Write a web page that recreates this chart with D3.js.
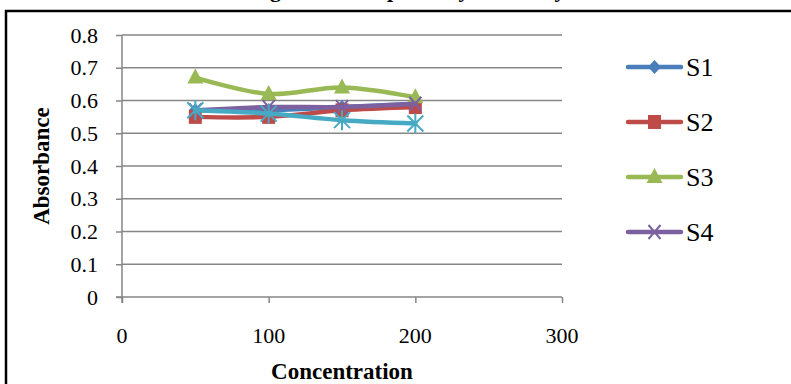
<!DOCTYPE html>
<html><head><meta charset="utf-8">
<script src="https://cdn.jsdelivr.net/npm/d3@7"></script>
<style>html,body{margin:0;padding:0;background:#fff;overflow:hidden}</style>
</head><body>
<script>
const concentrations = [50, 100, 150, 200];
const seriesNames = ["S1", "S2", "S3", "S4", "S5"];
const s1 = [0.57, 0.57, 0.58, 0.59];
const s2 = [0.55, 0.55, 0.57, 0.58];
const s3 = [0.67, 0.62, 0.64, 0.61];
const s4 = [0.57, 0.58, 0.58, 0.59];
const s5 = [0.57, 0.56, 0.54, 0.53];
const legendNames = ["S1", "S2", "S3", "S4"];
const yTicks = [0, 0.1, 0.2, 0.3, 0.4, 0.5, 0.6, 0.7, 0.8];
const xTicks = [0, 100, 200, 300];
const titleText = "Figure 4: Phosphate Lysate Assay";
const xTitle = "Concentration";
const yTitle = "Absorbance";

const colors = ["#4A7EBB", "#BE4B48", "#98B954", "#7D60A0", "#46AAC5"];
const markers = ["diamond", "square", "triangle", "x", "star"];
const values = [s1, s2, s3, s4, s5];

const W = 791, H = 384;
const svg = d3.select("body").append("svg").attr("width", W).attr("height", H);
const font = "'Liberation Serif','Times New Roman',serif";

svg.append("rect").attr("x", 6).attr("y", 11).attr("width", W + 20).attr("height", H + 20)
  .attr("fill", "none").attr("stroke", "#000").attr("stroke-width", 2.5);

const x = d3.scaleLinear().domain([0, 300]).range([122, 562]);
const y = d3.scaleLinear().domain([0, 0.8]).range([297, 35]);

function txt(px, py, str, opts) {
  const o = Object.assign({size: 22, anchor: "middle", weight: "normal", rot: 0, dy: "0.35em", sy: 1}, opts || {});
  let tr = `translate(${px},${py}) scale(1,${o.sy})`;
  if (o.rot) tr += ` rotate(${o.rot})`;
  return svg.append("text").attr("transform", tr)
    .attr("text-anchor", o.anchor).attr("dy", o.dy)
    .attr("font-family", font).attr("font-size", o.size).attr("font-weight", o.weight)
    .attr("fill", "#000").text(str);
}

// title (clipped at top, as in the reference)
txt(408, -3, titleText, {size: 22, weight: "bold", dy: "0"});

// gridlines
const gridCol = "#868686";
svg.append("g").selectAll("line").data(yTicks.filter(d => d > 0)).join("line")
  .attr("x1", x(0)).attr("x2", x(300)).attr("y1", d => y(d)).attr("y2", d => y(d))
  .attr("stroke", gridCol).attr("stroke-width", 1.5);

// y axis
const yAxis = d3.axisLeft(y).tickValues(yTicks).tickSize(6).tickFormat("");
const gy = svg.append("g").attr("transform", `translate(${x(0)},0)`).call(yAxis);
gy.select(".domain").attr("stroke", gridCol).attr("stroke-width", 1.5).attr("d", `M0,${y(0.8)}V${y(0) + 6}`);
gy.selectAll(".tick line").attr("stroke", gridCol).attr("stroke-width", 1.5);
// x axis
const xAxis = d3.axisBottom(x).tickValues(xTicks).tickSize(6).tickFormat("");
const gx = svg.append("g").attr("transform", `translate(0,${y(0)})`).call(xAxis);
gx.select(".domain").attr("stroke", gridCol).attr("stroke-width", 1.5).attr("d", `M${x(0) - 6},0H${x(300)}`);
gx.selectAll(".tick line").attr("stroke", gridCol).attr("stroke-width", 1.5);

yTicks.forEach(t => txt(98, y(t), String(+t.toFixed(1)), {anchor: "end"}));
xTicks.forEach(t => txt(x(t), 335, String(t)));
txt(342, 371, xTitle, {weight: "bold", size: 23});
txt(41, 166, yTitle, {weight: "bold", rot: -90, size: 23});

function marker(g, type, cx, cy, col) {
  if (type === "diamond") {
    g.append("path").attr("d", `M${cx},${cy - 7}L${cx + 6.5},${cy}L${cx},${cy + 7}L${cx - 6.5},${cy}Z`).attr("fill", col);
  } else if (type === "square") {
    g.append("rect").attr("x", cx - 6.5).attr("y", cy - 7).attr("width", 13).attr("height", 14).attr("fill", col);
  } else if (type === "triangle") {
    g.append("path").attr("d", `M${cx},${cy - 9}L${cx + 8},${cy + 6}L${cx - 8},${cy + 6}Z`).attr("fill", col);
  } else if (type === "x") {
    g.append("path").attr("d", `M${cx - 6},${cy - 7}L${cx + 6},${cy + 7}M${cx + 6},${cy - 7}L${cx - 6},${cy + 7}`)
      .attr("stroke", col).attr("stroke-width", 2).attr("fill", "none");
  } else if (type === "star") {
    g.append("path").attr("d", `M${cx - 8},${cy - 8}L${cx + 8},${cy + 8}M${cx + 8},${cy - 8}L${cx - 8},${cy + 8}M${cx},${cy - 10}V${cy + 10}`)
      .attr("stroke", col).attr("stroke-width", 2).attr("fill", "none");
  }
}

const line = d3.line().x((d, i) => x(concentrations[i])).y(d => y(d)).curve(d3.curveCatmullRom.alpha(0.5));
values.forEach((vals, si) => {
  const g = svg.append("g");
  g.append("path").attr("d", line(vals)).attr("fill", "none").attr("stroke", colors[si])
    .attr("stroke-width", 4.5).attr("stroke-linecap", "round").attr("stroke-linejoin", "round");
  vals.forEach((v, i) => marker(g, markers[si], x(concentrations[i]), y(v), colors[si]));
});

// legend
const legY = [67, 122, 177, 232];
legendNames.forEach((n, i) => {
  const g = svg.append("g");
  g.append("line").attr("x1", 628).attr("x2", 681).attr("y1", legY[i]).attr("y2", legY[i])
    .attr("stroke", colors[i]).attr("stroke-width", 4.5).attr("stroke-linecap", "round");
  marker(g, markers[i], 654.5, legY[i], colors[i]);
  txt(686, legY[i], n, {anchor: "start", size: 26});
});
</script>
</body></html>
